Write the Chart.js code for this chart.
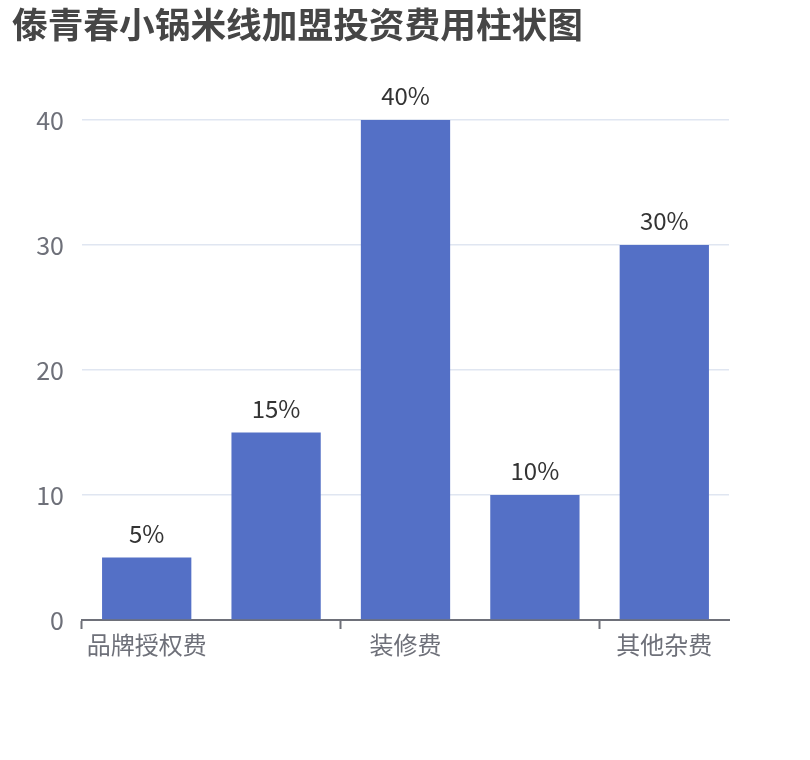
<!DOCTYPE html>
<html>
<head>
<meta charset="utf-8">
<script src="https://cdn.jsdelivr.net/npm/chart.js@4.4.1/dist/chart.umd.min.js"></script>
<style>
  html, body { margin: 0; padding: 0; background: #fff; }
  #wrap { width: 810px; height: 760px; }
</style>
</head>
<body>
<div id="wrap"><canvas id="costChart" width="810" height="760"></canvas></div>
<script>
const titleText = "傣青春小锅米线加盟投资费用柱状图";
const categories = ["品牌授权费", "加盟费", "装修费", "设备费", "其他杂费"];
const percents = [5, 15, 40, 10, 30];
const yTicks = [0, 10, 20, 30, 40];

const FONT = "'Noto Sans CJK SC', 'Noto Sans', sans-serif";

// title drawn at the top-left corner, like the original
const titlePlugin = {
  id: "topTitle",
  afterDraw(chart) {
    const c = chart.ctx;
    c.save();
    c.font = "bold 35.7px " + FONT;
    c.fillStyle = "#464646";
    c.textAlign = "left";
    c.textBaseline = "alphabetic";
    c.fillText(titleText, 12, 38);
    c.restore();
  }
};

// "xx%" labels above each bar
const valueLabels = {
  id: "valueLabels",
  afterDatasetsDraw(chart) {
    const c = chart.ctx;
    const meta = chart.getDatasetMeta(0);
    c.save();
    c.font = "24px " + FONT;
    c.fillStyle = "#333";
    c.textAlign = "center";
    c.textBaseline = "alphabetic";
    meta.data.forEach((bar, i) => {
      c.fillText(percents[i] + "%", bar.x, bar.y - 15);
    });
    c.restore();
  }
};

new Chart(document.getElementById("costChart"), {
  type: "bar",
  data: {
    labels: categories,
    datasets: [{
      data: percents,
      backgroundColor: "#5470C6",
      barPercentage: 0.69,
      categoryPercentage: 1.0
    }]
  },
  options: {
    responsive: false,
    animation: false,
    layout: { padding: { top: 120, left: 0, right: 81, bottom: 100 } },
    plugins: {
      legend: { display: false },
      tooltip: { enabled: false },
      title: { display: false }
    },
    scales: {
      x: {
        offset: true,
        afterFit(scale) { scale.height = 40; },
        grid: {
          offset: true,
          drawOnChartArea: false,
          drawTicks: true,
          tickLength: 9,
          tickWidth: 2,
          tickColor: ctx => (ctx.index % 2 === 0 || ctx.index === categories.length) ? "#6E7079" : "rgba(0,0,0,0)"
        },
        border: { display: true, color: "#6E7079", width: 2 },
        ticks: {
          autoSkip: false,
          maxRotation: 0,
          padding: 1,
          color: "#6E7079",
          font: { family: FONT, size: 24 },
          callback: (v, i) => (i % 2 === 0 ? categories[i] : "")
        }
      },
      y: {
        min: yTicks[0],
        max: yTicks[yTicks.length - 1],
        afterFit(scale) { scale.width = 82; },
        afterBuildTicks(scale) { scale.ticks = yTicks.map(v => ({ value: v })); },
        grid: { color: "#E0E6F1", lineWidth: 1.5, drawTicks: false },
        border: { display: false },
        ticks: {
          padding: 18,
          color: "#6E7079",
          font: { family: FONT, size: 25 }
        }
      }
    }
  },
  plugins: [titlePlugin, valueLabels]
});
</script>
</body>
</html>
